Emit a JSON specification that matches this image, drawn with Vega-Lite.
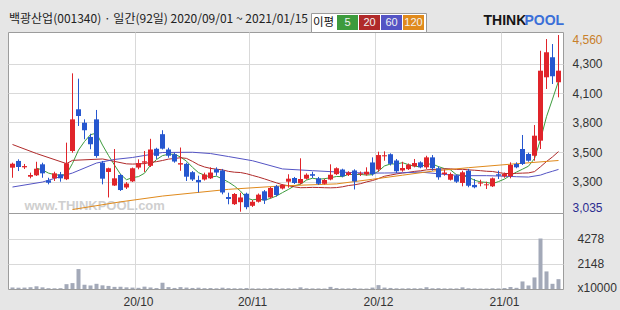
{
  "$schema": "https://vega.github.io/schema/vega-lite/v6.json",
  "background": "#e6e6e6",
  "padding": {"left": 7, "right": 5, "top": 12, "bottom": 3},
  "title": {"text": "백광산업(001340) · 일간(92일) 2020/09/01 ~ 2021/01/15", "anchor": "start", "frame": "group", "offset": -13, "font": "Noto Sans CJK KR", "fontSize": 12, "fontWeight": "normal", "color": "#222222", "dx": 1},
  "config": {
    "view": {"fill": "#ffffff", "stroke": "#9c9c9c", "strokeWidth": 1},
    "axis": {"labelFont": "Liberation Sans", "labelFontSize": 12, "labelColor": "#333333", "gridColor": "#d9d9d9", "ticks": false, "domain": false, "labelOverlap": false}
  },
  "spacing": 0,
  "bounds": "flush",
  "datasets": {
    "k": [
      {"d":"20/09/01","o":3415,"h":3458,"l":3328,"c":3449,"v":130},
      {"d":"20/09/02","o":3473,"h":3487,"l":3386,"c":3421,"v":110},
      {"d":"20/09/03","o":3418,"h":3447,"l":3404,"c":3429,"v":120},
      {"d":"20/09/04","o":3337,"h":3372,"l":3323,"c":3352,"v":150},
      {"d":"20/09/07","o":3349,"h":3466,"l":3343,"c":3406,"v":230},
      {"d":"20/09/08","o":3444,"h":3458,"l":3328,"c":3366,"v":140},
      {"d":"20/09/09","o":3306,"h":3328,"l":3271,"c":3285,"v":70},
      {"d":"20/09/10","o":3323,"h":3380,"l":3300,"c":3366,"v":60},
      {"d":"20/09/11","o":3358,"h":3378,"l":3294,"c":3323,"v":70},
      {"d":"20/09/14","o":3315,"h":3631,"l":3308,"c":3453,"v":410},
      {"d":"20/09/15","o":3559,"h":4229,"l":3544,"c":3832,"v":500},
      {"d":"20/09/16","o":3919,"h":4183,"l":3775,"c":3861,"v":1690},
      {"d":"20/09/17","o":3803,"h":3832,"l":3660,"c":3738,"v":360},
      {"d":"20/09/18","o":3680,"h":3708,"l":3574,"c":3617,"v":300},
      {"d":"20/09/21","o":3832,"h":3913,"l":3501,"c":3516,"v":440},
      {"d":"20/09/22","o":3458,"h":3473,"l":3271,"c":3320,"v":310},
      {"d":"20/09/23","o":3378,"h":3415,"l":3158,"c":3410,"v":260},
      {"d":"20/09/24","o":3261,"h":3576,"l":3257,"c":3323,"v":180},
      {"d":"20/09/25","o":3352,"h":3360,"l":3214,"c":3222,"v":190},
      {"d":"20/09/28","o":3244,"h":3291,"l":3231,"c":3278,"v":140},
      {"d":"20/09/29","o":3297,"h":3416,"l":3291,"c":3410,"v":120},
      {"d":"20/10/05","o":3416,"h":3487,"l":3401,"c":3455,"v":100},
      {"d":"20/10/06","o":3458,"h":3559,"l":3378,"c":3470,"v":200},
      {"d":"20/10/07","o":3431,"h":3664,"l":3421,"c":3572,"v":130},
      {"d":"20/10/08","o":3578,"h":3587,"l":3490,"c":3517,"v":80},
      {"d":"20/10/12","o":3704,"h":3738,"l":3572,"c":3579,"v":530},
      {"d":"20/10/13","o":3572,"h":3587,"l":3501,"c":3518,"v":160},
      {"d":"20/10/14","o":3531,"h":3544,"l":3458,"c":3468,"v":90},
      {"d":"20/10/15","o":3442,"h":3589,"l":3388,"c":3454,"v":160},
      {"d":"20/10/16","o":3448,"h":3458,"l":3300,"c":3337,"v":120},
      {"d":"20/10/19","o":3376,"h":3386,"l":3300,"c":3313,"v":90},
      {"d":"20/10/20","o":3309,"h":3346,"l":3201,"c":3289,"v":110},
      {"d":"20/10/21","o":3313,"h":3372,"l":3304,"c":3356,"v":70},
      {"d":"20/10/22","o":3323,"h":3418,"l":3317,"c":3373,"v":80},
      {"d":"20/10/23","o":3402,"h":3418,"l":3346,"c":3373,"v":60},
      {"d":"20/10/26","o":3391,"h":3404,"l":3185,"c":3201,"v":110},
      {"d":"20/10/27","o":3162,"h":3199,"l":3099,"c":3145,"v":70},
      {"d":"20/10/28","o":3100,"h":3196,"l":3093,"c":3188,"v":60},
      {"d":"20/10/29","o":3117,"h":3199,"l":3035,"c":3158,"v":60},
      {"d":"20/10/30","o":3190,"h":3199,"l":3056,"c":3074,"v":80},
      {"d":"20/11/02","o":3086,"h":3136,"l":3076,"c":3121,"v":50},
      {"d":"20/11/03","o":3121,"h":3192,"l":3114,"c":3182,"v":50},
      {"d":"20/11/04","o":3211,"h":3222,"l":3102,"c":3133,"v":50},
      {"d":"20/11/05","o":3158,"h":3248,"l":3149,"c":3240,"v":70},
      {"d":"20/11/06","o":3255,"h":3266,"l":3166,"c":3179,"v":60},
      {"d":"20/11/09","o":3235,"h":3274,"l":3227,"c":3266,"v":50},
      {"d":"20/11/10","o":3294,"h":3358,"l":3242,"c":3320,"v":60},
      {"d":"20/11/11","o":3326,"h":3335,"l":3274,"c":3283,"v":50},
      {"d":"20/11/12","o":3280,"h":3496,"l":3271,"c":3317,"v":140},
      {"d":"20/11/13","o":3320,"h":3366,"l":3313,"c":3354,"v":60},
      {"d":"20/11/16","o":3359,"h":3380,"l":3326,"c":3345,"v":50},
      {"d":"20/11/17","o":3323,"h":3335,"l":3266,"c":3276,"v":50},
      {"d":"20/11/18","o":3276,"h":3320,"l":3270,"c":3309,"v":40},
      {"d":"20/11/19","o":3313,"h":3444,"l":3306,"c":3354,"v":180},
      {"d":"20/11/20","o":3359,"h":3418,"l":3352,"c":3410,"v":80},
      {"d":"20/11/23","o":3399,"h":3406,"l":3332,"c":3341,"v":50},
      {"d":"20/11/24","o":3352,"h":3384,"l":3343,"c":3373,"v":50},
      {"d":"20/11/25","o":3391,"h":3401,"l":3227,"c":3297,"v":70},
      {"d":"20/11/26","o":3358,"h":3382,"l":3343,"c":3366,"v":40},
      {"d":"20/11/27","o":3356,"h":3418,"l":3346,"c":3380,"v":40},
      {"d":"20/11/30","o":3460,"h":3504,"l":3346,"c":3359,"v":120},
      {"d":"20/12/01","o":3399,"h":3553,"l":3380,"c":3524,"v":330},
      {"d":"20/12/02","o":3513,"h":3556,"l":3475,"c":3522,"v":120},
      {"d":"20/12/03","o":3531,"h":3539,"l":3434,"c":3448,"v":90},
      {"d":"20/12/04","o":3477,"h":3490,"l":3369,"c":3384,"v":60},
      {"d":"20/12/07","o":3391,"h":3466,"l":3380,"c":3412,"v":50},
      {"d":"20/12/08","o":3402,"h":3451,"l":3395,"c":3441,"v":60},
      {"d":"20/12/09","o":3427,"h":3490,"l":3418,"c":3455,"v":60},
      {"d":"20/12/10","o":3461,"h":3470,"l":3410,"c":3418,"v":60},
      {"d":"20/12/11","o":3418,"h":3518,"l":3404,"c":3504,"v":150},
      {"d":"20/12/14","o":3504,"h":3524,"l":3389,"c":3410,"v":60},
      {"d":"20/12/15","o":3410,"h":3427,"l":3311,"c":3332,"v":70},
      {"d":"20/12/16","o":3360,"h":3399,"l":3346,"c":3373,"v":50},
      {"d":"20/12/17","o":3311,"h":3373,"l":3304,"c":3360,"v":50},
      {"d":"20/12/18","o":3346,"h":3356,"l":3283,"c":3294,"v":50},
      {"d":"20/12/21","o":3283,"h":3389,"l":3254,"c":3375,"v":140},
      {"d":"20/12/22","o":3389,"h":3404,"l":3246,"c":3259,"v":60},
      {"d":"20/12/23","o":3266,"h":3317,"l":3237,"c":3246,"v":50},
      {"d":"20/12/24","o":3278,"h":3311,"l":3254,"c":3287,"v":40},
      {"d":"20/12/28","o":3263,"h":3294,"l":3231,"c":3271,"v":40},
      {"d":"20/12/29","o":3254,"h":3330,"l":3248,"c":3323,"v":60},
      {"d":"20/12/30","o":3358,"h":3389,"l":3317,"c":3346,"v":50},
      {"d":"21/01/04","o":3341,"h":3373,"l":3328,"c":3360,"v":80},
      {"d":"21/01/05","o":3341,"h":3461,"l":3323,"c":3438,"v":170},
      {"d":"21/01/06","o":3447,"h":3461,"l":3410,"c":3418,"v":100},
      {"d":"21/01/07","o":3576,"h":3697,"l":3438,"c":3447,"v":640},
      {"d":"21/01/08","o":3533,"h":3544,"l":3466,"c":3475,"v":300},
      {"d":"21/01/11","o":3518,"h":3783,"l":3475,"c":3691,"v":980},
      {"d":"21/01/12","o":3648,"h":4424,"l":3576,"c":4252,"v":4278},
      {"d":"21/01/13","o":4195,"h":4525,"l":4094,"c":4411,"v":1490},
      {"d":"21/01/14","o":4368,"h":4482,"l":4137,"c":4204,"v":440},
      {"d":"21/01/15","o":4152,"h":4560,"l":4022,"c":4252,"v":835}
    ],
    "ma": [
      {"d":"20/09/07","k":"5","v":3411},{"d":"20/09/08","k":"5","v":3395},{"d":"20/09/09","k":"5","v":3368},{"d":"20/09/10","k":"5","v":3355},{"d":"20/09/11","k":"5","v":3349},
      {"d":"20/09/14","k":"5","v":3359},{"d":"20/09/15","k":"5","v":3452},{"d":"20/09/16","k":"5","v":3567},{"d":"20/09/17","k":"5","v":3641},{"d":"20/09/18","k":"5","v":3700},
      {"d":"20/09/21","k":"5","v":3713},{"d":"20/09/22","k":"5","v":3610},{"d":"20/09/23","k":"5","v":3520},{"d":"20/09/24","k":"5","v":3437},{"d":"20/09/25","k":"5","v":3358},
      {"d":"20/09/28","k":"5","v":3311},{"d":"20/09/29","k":"5","v":3329},{"d":"20/10/05","k":"5","v":3338},{"d":"20/10/06","k":"5","v":3367},{"d":"20/10/07","k":"5","v":3437},
      {"d":"20/10/08","k":"5","v":3485},{"d":"20/10/12","k":"5","v":3519},{"d":"20/10/13","k":"5","v":3531},{"d":"20/10/14","k":"5","v":3531},{"d":"20/10/15","k":"5","v":3507},
      {"d":"20/10/16","k":"5","v":3471},{"d":"20/10/19","k":"5","v":3418},{"d":"20/10/20","k":"5","v":3372},{"d":"20/10/21","k":"5","v":3350},{"d":"20/10/22","k":"5","v":3334},
      {"d":"20/10/23","k":"5","v":3341},{"d":"20/10/26","k":"5","v":3318},{"d":"20/10/27","k":"5","v":3290},{"d":"20/10/28","k":"5","v":3256},{"d":"20/10/29","k":"5","v":3213},
      {"d":"20/10/30","k":"5","v":3153},{"d":"20/11/02","k":"5","v":3137},{"d":"20/11/03","k":"5","v":3145},{"d":"20/11/04","k":"5","v":3134},{"d":"20/11/05","k":"5","v":3150},
      {"d":"20/11/06","k":"5","v":3171},{"d":"20/11/09","k":"5","v":3200},{"d":"20/11/10","k":"5","v":3228},{"d":"20/11/11","k":"5","v":3258},{"d":"20/11/12","k":"5","v":3273},
      {"d":"20/11/13","k":"5","v":3308},{"d":"20/11/16","k":"5","v":3324},{"d":"20/11/17","k":"5","v":3315},{"d":"20/11/18","k":"5","v":3320},{"d":"20/11/19","k":"5","v":3328},
      {"d":"20/11/20","k":"5","v":3339},{"d":"20/11/23","k":"5","v":3338},{"d":"20/11/24","k":"5","v":3357},{"d":"20/11/25","k":"5","v":3355},{"d":"20/11/26","k":"5","v":3357},
      {"d":"20/11/27","k":"5","v":3351},{"d":"20/11/30","k":"5","v":3355},{"d":"20/12/01","k":"5","v":3385},{"d":"20/12/02","k":"5","v":3430},{"d":"20/12/03","k":"5","v":3447},
      {"d":"20/12/04","k":"5","v":3447},{"d":"20/12/07","k":"5","v":3458},{"d":"20/12/08","k":"5","v":3441},{"d":"20/12/09","k":"5","v":3428},{"d":"20/12/10","k":"5","v":3422},
      {"d":"20/12/11","k":"5","v":3446},{"d":"20/12/14","k":"5","v":3446},{"d":"20/12/15","k":"5","v":3424},{"d":"20/12/16","k":"5","v":3407},{"d":"20/12/17","k":"5","v":3396},
      {"d":"20/12/18","k":"5","v":3354},{"d":"20/12/21","k":"5","v":3347},{"d":"20/12/22","k":"5","v":3332},{"d":"20/12/23","k":"5","v":3307},{"d":"20/12/24","k":"5","v":3292},
      {"d":"20/12/28","k":"5","v":3288},{"d":"20/12/29","k":"5","v":3277},{"d":"20/12/30","k":"5","v":3295},{"d":"21/01/04","k":"5","v":3317},{"d":"21/01/05","k":"5","v":3348},
      {"d":"21/01/06","k":"5","v":3377},{"d":"21/01/07","k":"5","v":3402},{"d":"21/01/08","k":"5","v":3428},{"d":"21/01/11","k":"5","v":3494},{"d":"21/01/12","k":"5","v":3657},
      {"d":"21/01/13","k":"5","v":3855},{"d":"21/01/14","k":"5","v":4007},{"d":"21/01/15","k":"5","v":4162},

      {"d":"20/09/01","k":"20","v":3615},{"d":"20/09/07","k":"20","v":3537},{"d":"20/09/14","k":"20","v":3450},{"d":"20/09/15","k":"20","v":3478},{"d":"20/09/22","k":"20","v":3490},
      {"d":"20/09/28","k":"20","v":3448},{"d":"20/09/29","k":"20","v":3446},{"d":"20/10/05","k":"20","v":3448},{"d":"20/10/06","k":"20","v":3450},{"d":"20/10/07","k":"20","v":3461},
      {"d":"20/10/08","k":"20","v":3467},{"d":"20/10/12","k":"20","v":3477},{"d":"20/10/13","k":"20","v":3489},{"d":"20/10/14","k":"20","v":3494},{"d":"20/10/15","k":"20","v":3501},
      {"d":"20/10/16","k":"20","v":3495},{"d":"20/10/19","k":"20","v":3469},{"d":"20/10/20","k":"20","v":3440},{"d":"20/10/21","k":"20","v":3421},{"d":"20/10/22","k":"20","v":3409},
      {"d":"20/10/23","k":"20","v":3402},{"d":"20/10/26","k":"20","v":3396},{"d":"20/10/27","k":"20","v":3383},{"d":"20/10/28","k":"20","v":3376},{"d":"20/10/29","k":"20","v":3373},
      {"d":"20/10/30","k":"20","v":3363},{"d":"20/11/02","k":"20","v":3348},{"d":"20/11/03","k":"20","v":3334},{"d":"20/11/04","k":"20","v":3318},{"d":"20/11/05","k":"20","v":3301},
      {"d":"20/11/06","k":"20","v":3284},{"d":"20/11/09","k":"20","v":3268},{"d":"20/11/10","k":"20","v":3259},{"d":"20/11/11","k":"20","v":3249},{"d":"20/11/12","k":"20","v":3242},
      {"d":"20/11/13","k":"20","v":3243},{"d":"20/11/16","k":"20","v":3245},{"d":"20/11/17","k":"20","v":3244},{"d":"20/11/18","k":"20","v":3242},{"d":"20/11/19","k":"20","v":3241},
      {"d":"20/11/20","k":"20","v":3243},{"d":"20/11/23","k":"20","v":3250},{"d":"20/11/24","k":"20","v":3261},{"d":"20/11/25","k":"20","v":3267},{"d":"20/11/26","k":"20","v":3277},
      {"d":"20/11/27","k":"20","v":3292},{"d":"20/11/30","k":"20","v":3304},{"d":"20/12/01","k":"20","v":3321},{"d":"20/12/02","k":"20","v":3341},{"d":"20/12/03","k":"20","v":3351},
      {"d":"20/12/04","k":"20","v":3361},{"d":"20/12/07","k":"20","v":3369},{"d":"20/12/08","k":"20","v":3375},{"d":"20/12/09","k":"20","v":3383},{"d":"20/12/10","k":"20","v":3388},
      {"d":"20/12/11","k":"20","v":3396},{"d":"20/12/14","k":"20","v":3399},{"d":"20/12/15","k":"20","v":3402},{"d":"20/12/16","k":"20","v":3405},{"d":"20/12/17","k":"20","v":3405},
      {"d":"20/12/18","k":"20","v":3400},{"d":"20/12/21","k":"20","v":3401},{"d":"20/12/22","k":"20","v":3396},{"d":"20/12/23","k":"20","v":3393},{"d":"20/12/24","k":"20","v":3389},
      {"d":"20/12/28","k":"20","v":3384},{"d":"20/12/29","k":"20","v":3382},{"d":"20/12/30","k":"20","v":3373},{"d":"21/01/04","k":"20","v":3365},{"d":"21/01/05","k":"20","v":3364},
      {"d":"21/01/06","k":"20","v":3366},{"d":"21/01/07","k":"20","v":3368},{"d":"21/01/08","k":"20","v":3370},{"d":"21/01/11","k":"20","v":3381},{"d":"21/01/12","k":"20","v":3423},
      {"d":"21/01/13","k":"20","v":3468},{"d":"21/01/14","k":"20","v":3508},{"d":"21/01/15","k":"20","v":3554},

      {"d":"20/09/01","k":"60","v":3248},{"d":"20/09/08","k":"60","v":3291},{"d":"20/09/15","k":"60","v":3369},{"d":"20/09/21","k":"60","v":3455},{"d":"20/09/24","k":"60","v":3486},
      {"d":"20/09/29","k":"60","v":3503},{"d":"20/10/12","k":"60","v":3546},{"d":"20/10/19","k":"60","v":3548},{"d":"20/10/22","k":"60","v":3537},{"d":"20/10/27","k":"60","v":3511},
      {"d":"20/11/02","k":"60","v":3475},{"d":"20/11/09","k":"60","v":3404},{"d":"20/11/16","k":"60","v":3389},{"d":"20/11/20","k":"60","v":3378},{"d":"20/11/27","k":"60","v":3368},
      {"d":"20/12/02","k":"60","v":3369},{"d":"20/12/07","k":"60","v":3371},{"d":"20/12/10","k":"60","v":3377},{"d":"20/12/15","k":"60","v":3362},{"d":"20/12/17","k":"60","v":3352},
      {"d":"20/12/22","k":"60","v":3346},{"d":"20/12/28","k":"60","v":3346},{"d":"20/12/30","k":"60","v":3343},{"d":"21/01/06","k":"60","v":3337},{"d":"21/01/08","k":"60","v":3334},
      {"d":"21/01/12","k":"60","v":3351},{"d":"21/01/13","k":"60","v":3369},{"d":"21/01/14","k":"60","v":3384},{"d":"21/01/15","k":"60","v":3400},

      {"d":"20/09/15","k":"120","v":3054},{"d":"20/09/25","k":"120","v":3120},{"d":"20/10/12","k":"120","v":3170},{"d":"20/10/27","k":"120","v":3228},{"d":"20/11/09","k":"120","v":3258},
      {"d":"20/11/20","k":"120","v":3275},{"d":"20/11/30","k":"120","v":3315},{"d":"20/12/07","k":"120","v":3350},{"d":"20/12/14","k":"120","v":3385},{"d":"20/12/22","k":"120","v":3415},
      {"d":"21/01/05","k":"120","v":3445},{"d":"21/01/15","k":"120","v":3477}
    ]
  },
  "vconcat": [
    {
      "width": 555,
      "height": 181,
      "layer": [
        {
          "data": {"name": "ma"},
          "mark": {"type": "line", "strokeWidth": 1, "clip": true},
          "encoding": {
            "x": {"field": "d", "type": "ordinal", "scale": {"type": "band", "paddingInner": 0, "paddingOuter": 0.25},
              "axis": {"values": ["20/10/05", "20/11/02", "20/12/01", "21/01/04"], "labels": false, "grid": true, "bandPosition": 0,
                "title": "www.THINKPOOL.com", "titleX": 16, "titleY": -8, "titleAlign": "left", "titleBaseline": "middle", "titleFont": "Liberation Sans", "titleFontSize": 13, "titleFontWeight": "bold", "titleColor": "#cfcfcf"}},
            "y": {"field": "v", "type": "quantitative", "scale": {"domain": [3023.8, 4585.9], "nice": false, "zero": false},
              "axis": {"orient": "right", "values": [3035, 3294, 3548, 3807, 4057, 4310, 4560], "tickCount": 12,
                "labelExpr": "datum.value == 3035 || datum.value == 4560 ? format(datum.value, ',') : format(round(datum.value / 100) * 100, ',')",
                "labelPadding": 9, "labelBaseline": "middle", "labelOverlap": false,
                "labelColor": {"expr": "datum.value == 4560 ? '#c8802a' : datum.value == 3035 ? '#2c2c90' : '#333333'"},
                "labelOffset": {"expr": "datum.value == 4560 ? 4 : datum.value == 3035 ? -4 : 0"},
                "gridOpacity": {"expr": "datum.value == 3035 || datum.value == 4560 ? 0 : 1"},
                "grid": true,
                "title": "THINK", "titleAngle": 0, "titleX": -80, "titleY": -11.5, "titleAlign": "left", "titleBaseline": "middle", "titleFont": "Liberation Sans", "titleFontSize": 14, "titleFontWeight": "bold", "titleColor": "#151515"}},
            "color": {"field": "k", "type": "nominal",
              "scale": {"domain": ["5", "20", "60", "120"], "range": ["#3d9b3d", "#b02a2a", "#5454c4", "#e08a1c"]},
              "legend": {"orient": "none", "legendX": 303, "legendY": -19, "direction": "horizontal",
                "title": "이평", "titleOrient": "left", "titleFont": "Noto Sans CJK KR", "titleFontSize": 11.5, "titleFontWeight": "normal", "titleColor": "#111111", "titlePadding": 5,
                "symbolType": "M-1.4,-1H1.4V1H-1.4Z", "symbolSize": 225, "symbolStrokeWidth": 0,
                "labelOffset": -7.5, "labelAlign": "center", "labelColor": "#f2f2f2", "labelFont": "Liberation Sans", "labelFontSize": 11,
                "columnPadding": 1, "padding": 2, "fillColor": "#ffffff", "strokeColor": "#9a9a9a",
                "encode": {"symbols": {"update": {"fill": {"scale": "color", "field": "value"}, "opacity": {"value": 1}, "strokeWidth": {"value": 0}}}}}}
          }
        },
        {
          "data": {"name": "k"},
          "mark": {"type": "rule", "strokeWidth": 1},
          "encoding": {
            "x": {"field": "d", "type": "ordinal"},
            "y": {"field": "l", "type": "quantitative"},
            "y2": {"field": "h"},
            "color": {"condition": {"test": "datum.c >= datum.o", "value": "#e0242a"}, "value": "#2657cf"}
          }
        },
        {
          "data": {"name": "k"},
          "mark": {"type": "bar", "size": 5},
          "encoding": {
            "x": {"field": "d", "type": "ordinal"},
            "y": {"field": "o", "type": "quantitative"},
            "y2": {"field": "c"},
            "color": {"condition": {"test": "datum.c >= datum.o", "value": "#e0242a"}, "value": "#2657cf"}
          }
        }
      ]
    },
    {
      "width": 555,
      "height": 76,
      "data": {"name": "k"},
      "mark": {"type": "bar", "size": 4, "color": "#a3a9b8"},
      "encoding": {
        "x": {"field": "d", "type": "ordinal", "scale": {"type": "band", "paddingInner": 0, "paddingOuter": 0.25},
          "axis": {"values": ["20/10/05", "20/11/02", "20/12/01", "21/01/04"], "labelExpr": "substring(datum.value, 0, 5)", "bandPosition": 0, "grid": true,
            "labelAngle": 0, "labelAlign": "center", "labelBaseline": "top", "labelPadding": 7,
            "title": "POOL", "titleX": 516, "titleY": -268.5, "titleAlign": "left", "titleBaseline": "middle", "titleFont": "Liberation Sans", "titleFontSize": 14, "titleFontWeight": "bold", "titleColor": "#3a6fd8"}},
        "y": {"field": "v", "type": "quantitative", "scale": {"domain": [0, 6440], "nice": false},
          "axis": {"orient": "right", "values": [2148, 4278], "format": "d", "labelPadding": 14, "labelBaseline": "middle", "grid": true,
            "title": "x10000", "titleAngle": 0, "titleX": 14, "titleY": 74, "titleAlign": "left", "titleBaseline": "middle", "titleFont": "Liberation Sans", "titleFontSize": 12, "titleFontWeight": "normal", "titleColor": "#333333"}}
      }
    }
  ]
}
